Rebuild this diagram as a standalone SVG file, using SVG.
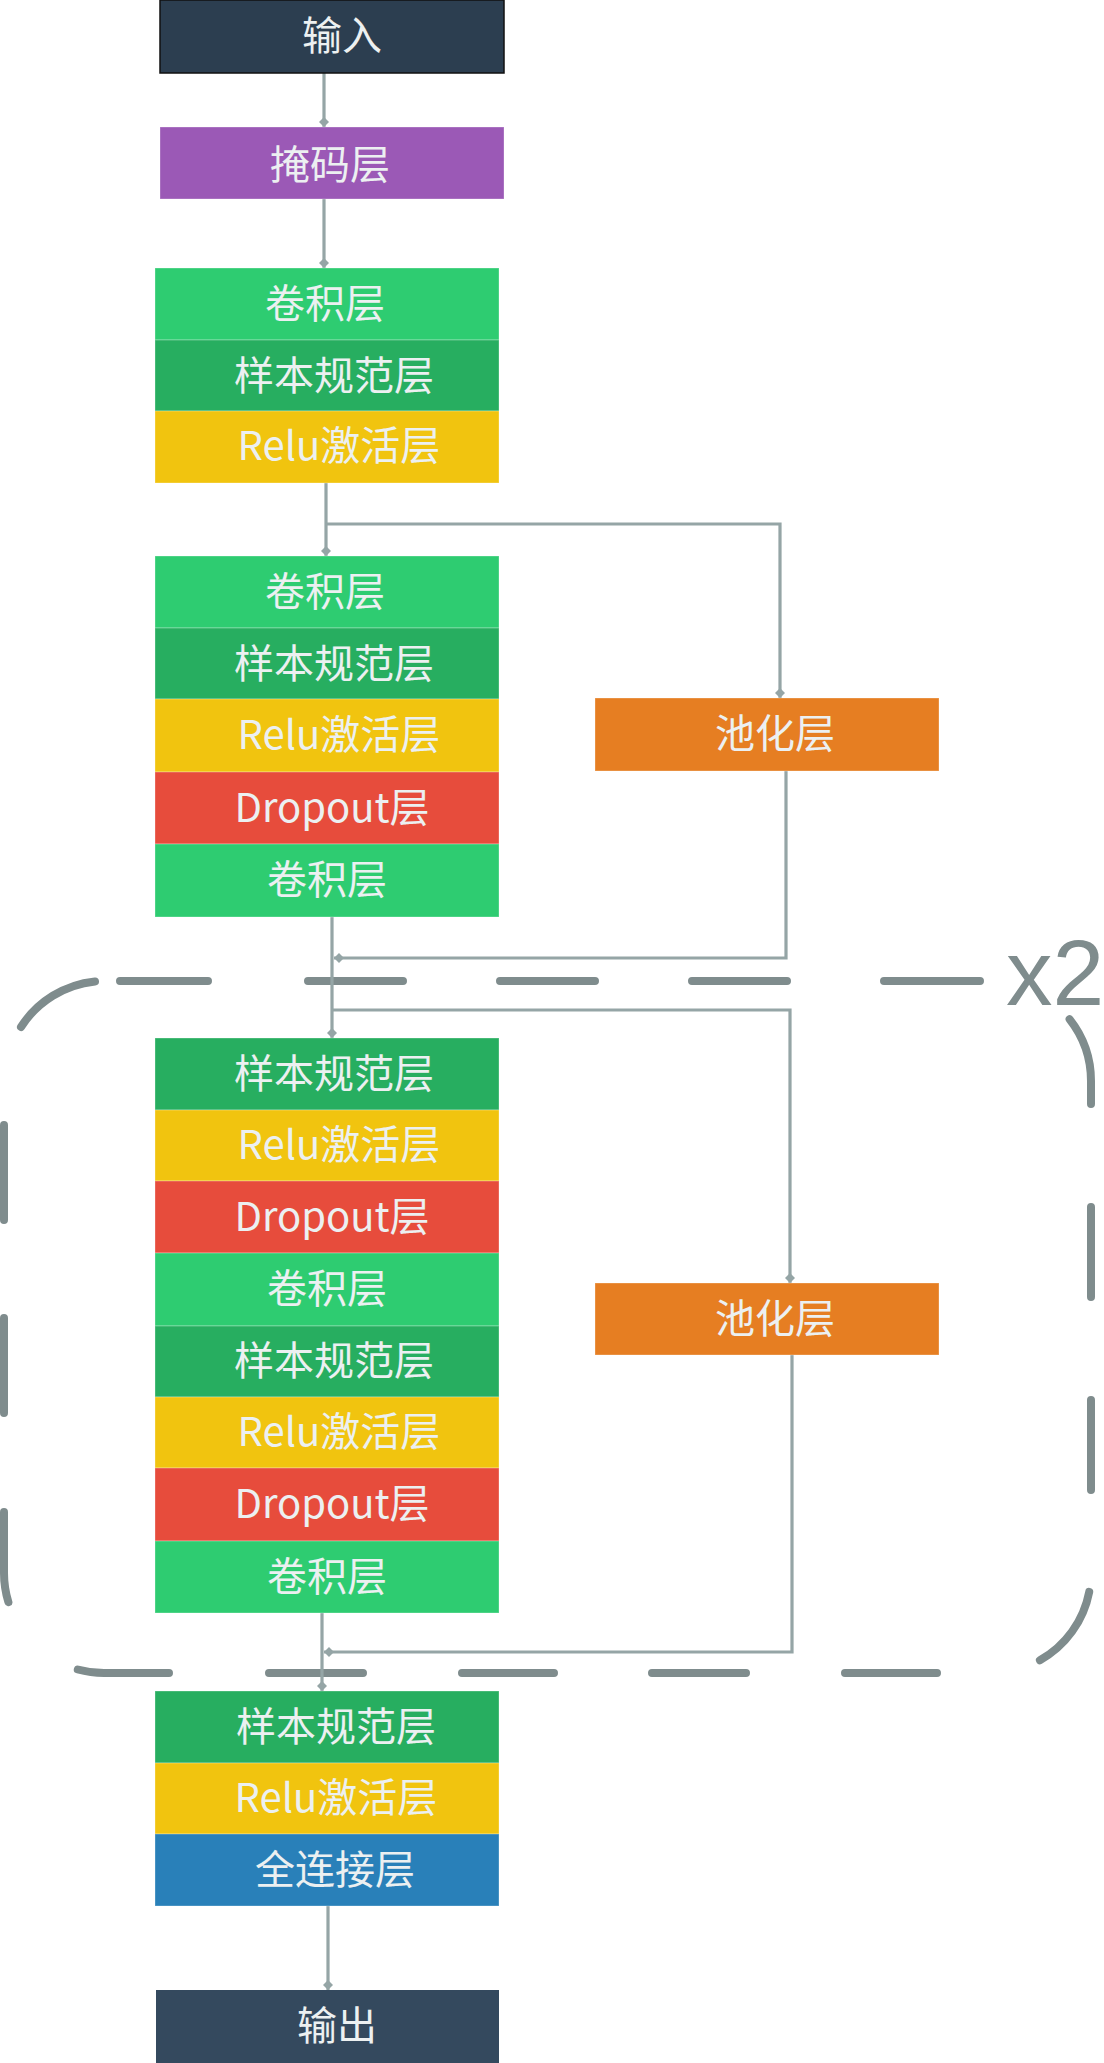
<svg xmlns="http://www.w3.org/2000/svg" width="1104" height="2063" viewBox="0 0 1104 2063">
<style>
.n{stroke:#ffffff;stroke-opacity:0.3;stroke-width:1}
.t{font-family:'Noto Sans CJK SC','Noto Sans',sans-serif;font-size:40px;fill:#ecf0f1;text-anchor:middle}
.c{fill:none;stroke:#95a5a6;stroke-width:3.2}
.conv{fill:#2ecc71}.bn{fill:#27ae60}.relu{fill:#f1c40f}.drop{fill:#e74c3c}.pool{fill:#e67e22}.fc{fill:#2980b9}
.dash{fill:none;stroke:#7f8c8d;stroke-width:8;stroke-linecap:round}
</style>
<defs>
<marker id="dia" viewBox="0 0 10 10" refX="10" refY="5" markerWidth="10" markerHeight="10" markerUnits="userSpaceOnUse" orient="auto">
<path d="M0,5 L5,0 L10,5 L5,10 Z" fill="#95a5a6"/>
</marker>
</defs>
<rect width="1104" height="2063" fill="#ffffff"/>

<g id="loop">
<path class="dash" d="M21,1027 A100 100 0 0 1 95,981.4 M120,981 H208 M308,981 H403 M500,981 H595 M692,981 H787 M884,981 H980 M1069.6,1019.2 A100 100 0 0 1 1091,1081 V1104 M1091,1207 V1297 M1091,1400 V1490 M1089.2,1591.9 A100 100 0 0 1 1039.9,1660.2 M937,1673 H845 M746,1673 H652 M554,1673 H462 M363,1673 H269 M169,1673 H104 A100 100 0 0 1 77.8,1669.5 M8.4,1602.2 A100 100 0 0 1 4,1573 V1512 M4,1413 V1318 M4,1220 V1125"/>
<text x="1006" y="1005" font-family="'Liberation Sans',Arial,sans-serif" font-size="93" fill="#7f8c8d">x2</text>
</g>

<g id="connectors">
<path class="c" d="M324,73 V127" marker-end="url(#dia)"/>
<path class="c" d="M324,199 V268" marker-end="url(#dia)"/>
<path class="c" d="M326,483 V556" marker-end="url(#dia)"/>
<path class="c" d="M326,524 H780 V698" marker-end="url(#dia)"/>
<path class="c" d="M786,771 V958 H334" marker-end="url(#dia)"/>
<path class="c" d="M332,917 V1038" marker-end="url(#dia)"/>
<path class="c" d="M332,1010 H790 V1283" marker-end="url(#dia)"/>
<path class="c" d="M792,1355 V1652 H324" marker-end="url(#dia)"/>
<path class="c" d="M322,1613 V1691" marker-end="url(#dia)"/>
<path class="c" d="M328,1906 V1990" marker-end="url(#dia)"/>
</g>

<g id="input"><rect x="160" y="0" width="344" height="73" fill="#2c3e50" stroke="#111111" stroke-width="1.5"/><text class="t" x="342" y="50">输入</text></g>
<g id="mask"><rect class="n" x="160" y="127" width="344" height="72" fill="#9b59b6"/><text class="t" x="330" y="179">掩码层</text></g>

<g id="block1">
<rect class="n conv" x="155" y="268" width="344" height="72"/><text class="t" x="325" y="318">卷积层</text>
<rect class="n bn" x="155" y="340" width="344" height="71"/><text class="t" x="334" y="390">样本规范层</text>
<rect class="n relu" x="155" y="411" width="344" height="72"/><text class="t" x="339" y="460">Relu激活层</text>
</g>

<g id="block2">
<rect class="n conv" x="155" y="556" width="344" height="72"/><text class="t" x="325" y="606">卷积层</text>
<rect class="n bn" x="155" y="628" width="344" height="71"/><text class="t" x="334" y="678">样本规范层</text>
<rect class="n relu" x="155" y="699" width="344" height="73"/><text class="t" x="339" y="749">Relu激活层</text>
<rect class="n drop" x="155" y="772" width="344" height="72"/><text class="t" x="332" y="822">Dropout层</text>
<rect class="n conv" x="155" y="844" width="344" height="73"/><text class="t" x="327" y="894">卷积层</text>
</g>

<g id="pool1"><rect class="n pool" x="595" y="698" width="344" height="73"/><text class="t" x="775" y="748">池化层</text></g>

<g id="block3">
<rect class="n bn" x="155" y="1038" width="344" height="72"/><text class="t" x="334" y="1088">样本规范层</text>
<rect class="n relu" x="155" y="1110" width="344" height="71"/><text class="t" x="339" y="1159">Relu激活层</text>
<rect class="n drop" x="155" y="1181" width="344" height="72"/><text class="t" x="332" y="1231">Dropout层</text>
<rect class="n conv" x="155" y="1253" width="344" height="73"/><text class="t" x="327" y="1303">卷积层</text>
<rect class="n bn" x="155" y="1326" width="344" height="71"/><text class="t" x="334" y="1375">样本规范层</text>
<rect class="n relu" x="155" y="1397" width="344" height="71"/><text class="t" x="339" y="1446">Relu激活层</text>
<rect class="n drop" x="155" y="1468" width="344" height="73"/><text class="t" x="332" y="1518">Dropout层</text>
<rect class="n conv" x="155" y="1541" width="344" height="72"/><text class="t" x="327" y="1591">卷积层</text>
</g>

<g id="pool2"><rect class="n pool" x="595" y="1283" width="344" height="72"/><text class="t" x="775" y="1333">池化层</text></g>

<g id="block4">
<rect class="n bn" x="155" y="1691" width="344" height="72"/><text class="t" x="336" y="1741">样本规范层</text>
<rect class="n relu" x="155" y="1763" width="344" height="71"/><text class="t" x="336" y="1812">Relu激活层</text>
<rect class="n fc" x="155" y="1834" width="344" height="72"/><text class="t" x="335" y="1884">全连接层</text>
</g>

<g id="output"><rect x="156" y="1990" width="343" height="73" fill="#34495e"/><text class="t" x="337" y="2040">输出</text></g>
</svg>
